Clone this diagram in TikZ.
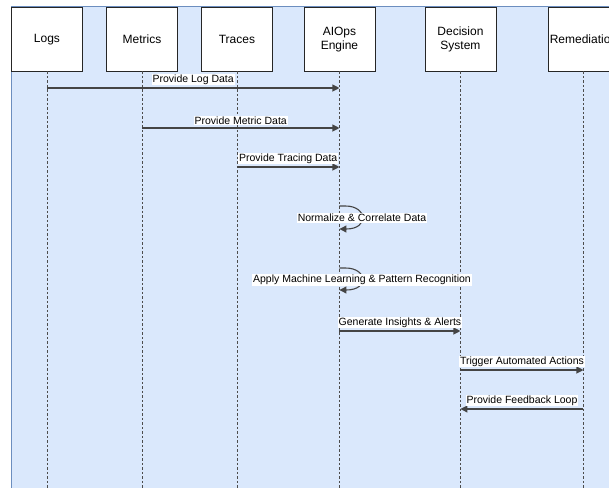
\documentclass[tikz,border=0pt]{standalone}
\usepackage{fontspec}
\setmainfont{Liberation Sans}
\usetikzlibrary{arrows.meta}
\definecolor{bgblue}{HTML}{DAE8FC}
\definecolor{bgborder}{HTML}{6C8EBF}
\definecolor{lineg}{HTML}{444444}
\begin{document}
\begin{tikzpicture}[x=1pt,y=-1pt,
  actor/.style={draw=black!85,line width=0.9pt,fill=white,minimum width=71pt,minimum height=63pt,
    inner sep=0pt,align=center,font=\fontsize{12}{14}\selectfont,anchor=north west},
  life/.style={draw=black!70,line width=0.9pt,dash pattern=on 2.5pt off 2pt},
  msg/.style={draw=lineg,line width=1.1pt,-{Triangle[length=7pt,width=7pt]}},
  lab/.style={fill=white,inner sep=1pt,font=\fontsize{10.5}{12}\selectfont,text=black}]
\useasboundingbox (0,0) rectangle (609,487);
\fill[bgblue] (11,7) rectangle (625,495);
\draw[bgborder,line width=1pt] (11,495) -- (11,7) -- (625,7);
% actors
\node[actor] (logs) at (11,7.5) {Logs};
\node[actor] (metrics) at (106,7.5) {Metrics};
\node[actor] (traces) at (201,7.5) {Traces};
\node[actor] (aiops) at (303.5,7.5) {AIOps\\Engine};
\node[actor] (decision) at (424.5,7.5) {Decision\\System};
\node[actor] (remed) at (547.5,7.5) {Remediation};
% lifelines
\foreach \n in {logs,metrics,traces,aiops,decision,remed}{
  \coordinate (\n-end) at (\n.south |- 0,490);
  \draw[life] (\n.south) -- (\n-end);
}
% messages
\draw[msg] (logs |- 0,88) -- node[lab,above=2pt] {Provide Log Data} (aiops |- 0,88);
\draw[msg] (metrics |- 0,128) -- node[lab,above=2pt] {Provide Metric Data} (aiops |- 0,128);
\draw[msg] (traces |- 0,167) -- node[lab,above=2pt] {Provide Tracing Data} (aiops |- 0,167);
% self loops
\coordinate (n1s) at (aiops |- 0,206);
\coordinate (n1e) at (aiops |- 0,229);
\draw[msg] (n1s) -- ++(6,0) .. controls +(22,0) and +(30,0) .. (n1e);
\node[lab] (n1l) at (362,218) {Normalize \& Correlate Data};
\coordinate (n2s) at (aiops |- 0,268);
\coordinate (n2e) at (aiops |- 0,290);
\draw[msg] (n2s) -- ++(6,0) .. controls +(22,0) and +(30,0) .. (n2e);
\node[lab] (n2l) at (362,280) {Apply Machine Learning \& Pattern Recognition};
\draw[msg] (aiops |- 0,331) -- node[lab,above=2pt] {Generate Insights \& Alerts} (decision |- 0,331);
\draw[msg] (decision |- 0,370) -- node[lab,above=2pt] {Trigger Automated Actions} (remed |- 0,370);
\draw[msg] (remed |- 0,409) -- node[lab,above=2pt] {Provide Feedback Loop} (decision |- 0,409);
\end{tikzpicture}
\end{document}
